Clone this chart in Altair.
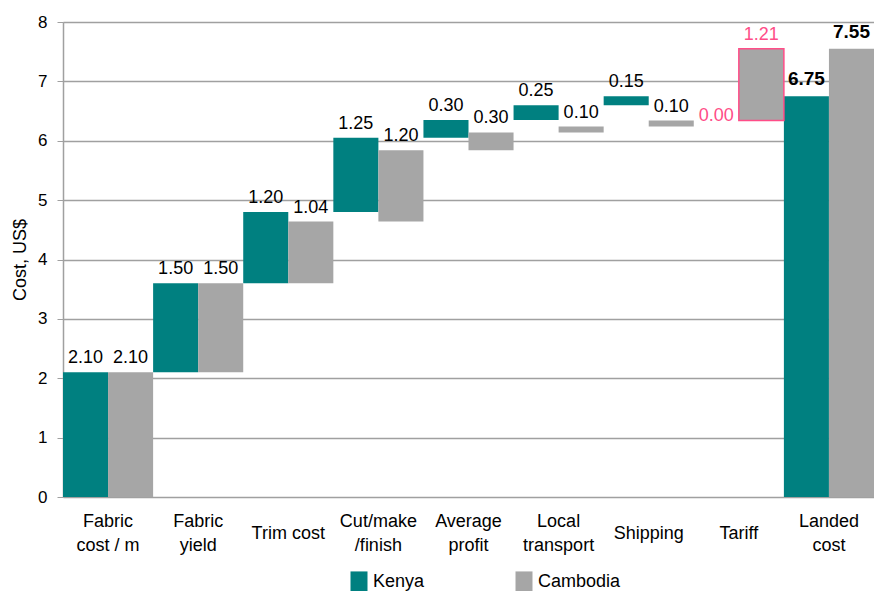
import altair as alt
import pandas as pd

# Cost build-up per garment, US$
categories = ["Fabric cost / m", "Fabric yield", "Trim cost", "Cut/make /finish",
              "Average profit", "Local transport", "Shipping", "Tariff", "Landed cost"]
axis_labels = ["Fabric|cost / m", "Fabric|yield", "Trim cost", "Cut/make|/finish",
               "Average|profit", "Local|transport", "Shipping", "Tariff", "Landed|cost"]
countries = ["Kenya", "Cambodia"]
kenya_steps = [2.10, 1.50, 1.20, 1.25, 0.30, 0.25, 0.15, 0.00]
cambodia_steps = [2.10, 1.50, 1.04, 1.20, 0.30, 0.10, 0.10, 1.21]

TEAL = "#008080"
GREY = "#a6a6a6"
PINK = "#ff4d88"
FONT = "Liberation Sans"

rows = []
for country, steps in zip(countries, [kenya_steps, cambodia_steps]):
    running = 0.0
    for cat, label, v in zip(categories[:-1], axis_labels[:-1], steps):
        kind = "tariff" if cat == "Tariff" else "step"
        rows.append(dict(cat=label, country=country, start=running,
                         end=running + v, value=v, kind=kind))
        running += v
    rows.append(dict(cat=axis_labels[-1], country=country, start=0.0,
                     end=running, value=running, kind="total"))
df = pd.DataFrame(rows)
df["hl"] = (df["kind"] == "tariff") & (df["country"] == "Cambodia")

# two-line category names sit higher so both kinds are centred on one line
label_baseline = {"condition": {"test": "indexof(datum.value, '|') >= 0", "value": "line-bottom"},
                  "value": "middle"}

x_enc = alt.X("cat:N", sort=axis_labels,
              scale=alt.Scale(paddingInner=0, paddingOuter=0),
              axis=alt.Axis(title=None, labelExpr="split(datum.label, '|')",
                            labelAngle=0, labelBaseline=label_baseline, labelLineHeight=24,
                            labelFontSize=18, labelFont=FONT, labelColor="#000000",
                            ticks=False, domain=False, labelPadding=36, grid=False,
                            labelLimit=200))
xo_enc = alt.XOffset("country:N", sort=countries,
                     scale=alt.Scale(paddingInner=0, paddingOuter=0))
y_enc = alt.Y("start:Q", scale=alt.Scale(domain=[0, 8], nice=False),
              axis=alt.Axis(title="Cost, US$", values=list(range(9)), format="d",
                            labelFontSize=17, labelFont=FONT, labelColor="#000000",
                            titleFontSize=18, titleFont=FONT, titleFontWeight="normal",
                            titleColor="#000000", titleX=-43, titleY=237.5,
                            titleAlign="center", titleBaseline="middle", titleAngle=270,
                            tickSize=6, labelPadding=10, tickColor="#a0a0a0",
                            domainColor="#a0a0a0", domainWidth=1.5,
                            gridColor="#a0a0a0", gridWidth=1.5))

base = alt.Chart(df)

bars = base.mark_bar(stroke=PINK).encode(
    x=x_enc, xOffset=xo_enc, y=y_enc, y2="end:Q",
    color=alt.Color("country:N", sort=countries,
                    scale=alt.Scale(domain=countries, range=[TEAL, GREY]),
                    legend=alt.Legend(title=None, orient="none", direction="horizontal",
                                      legendX=287, legendY=551,
                                      symbolType="M-1,-1.3H1V1.3H-1Z", symbolSize=289,
                                      symbolStrokeWidth=0, labelFontSize=18,
                                      labelFont=FONT, labelColor="#000000",
                                      labelOffset=5, columnPadding=90)),
    strokeWidth=alt.condition("datum.hl", alt.value(1.5), alt.value(0)),
)

def labels(filter_expr, dy, color="#000000", size=18, weight="normal"):
    return base.transform_filter(filter_expr).mark_text(
        dy=dy, baseline="alphabetic", fontSize=size, font=FONT,
        fontWeight=weight, color=color,
    ).encode(x=alt.X("cat:N", sort=axis_labels), xOffset=alt.XOffset("country:N", sort=countries),
             y="end:Q", text=alt.Text("value:Q", format=".2f"))

step_labels = labels("datum.kind == 'step'", -9)
total_labels = labels("datum.kind == 'total'", -11, size=19, weight="bold")
tariff_up = labels("datum.kind == 'tariff' && datum.value > 0", -9, color=PINK)
tariff_zero = labels("datum.kind == 'tariff' && datum.value == 0", 25, color=PINK)

chart = alt.layer(bars, step_labels, total_labels, tariff_up, tariff_zero).properties(
    width=811, height=475,
    autosize=alt.AutoSizeParams(type="none"),
    padding={"left": 63, "top": 22, "right": 0, "bottom": 94},
).configure_view(stroke=None).configure(background="white")

chart.save("out.html", embed_options={"renderer": "svg", "actions": False})
